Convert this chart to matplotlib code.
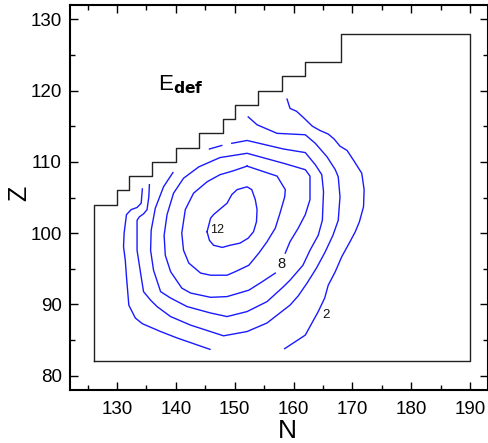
import matplotlib
matplotlib.use('Agg')
import matplotlib.pyplot as plt
from matplotlib.ticker import MultipleLocator

plt.rcParams['font.family'] = ['Liberation Sans Narrow', 'Liberation Sans', 'DejaVu Sans']

# Boundary of the calculated region (N, Z)
boundary_N = [126, 126, 130, 130, 132, 132, 136, 136, 140, 140, 144, 144, 148, 148,
              150, 150, 154, 154, 158, 158, 162, 162, 168, 168, 190, 190, 126]
boundary_Z = [82, 104, 104, 106, 106, 108, 108, 110, 110, 112, 112, 114, 114, 116,
              116, 118, 118, 120, 120, 122, 122, 124, 124, 128, 128, 82, 82]

# Contour E_def = 12 (closed)
c12_N = [145.3, 145.9, 146.4, 148.7, 149.5, 150.4, 152.1, 152.9, 153.5, 153.8, 153.7,
         153.2, 152.3, 150.9, 149.2, 147.9, 146.4, 145.7, 145.3]
c12_Z = [100.2, 102.1, 102.6, 104.2, 105.4, 106.1, 106.5, 106.1, 104.7, 103.3, 101.6,
         100.2, 99.3, 98.6, 98.3, 98.0, 98.3, 99.0, 100.2]

# Contour 10 (closed)
c10_N = [152.1, 157.2, 158.6, 158.5, 157.7, 156.9, 155.5, 154.1, 152.4, 150.1, 148.7,
         145.9, 144.2, 142.2, 141.3, 141.0, 141.6, 143.0, 145.3, 147.5, 149.6, 152.1]
c10_Z = [109.4, 108.0, 106.1, 105.1, 102.8, 100.7, 98.8, 97.2, 95.5, 94.6, 94.1,
         94.1, 94.4, 95.8, 97.6, 100.0, 103.3, 105.6, 107.2, 108.2, 108.7, 109.4]

# Contour 8 (closed, gap at label)
c8_N = [156.9, 154.7, 152.4, 148.7, 145.9, 142.5, 141.0, 139.1, 138.2, 138.0, 138.5,
        139.6, 141.3, 143.9, 147.5, 152.1, 158.3, 162.0, 162.8, 162.8, 162.0, 160.8,
        159.4, 158.6]
c8_Z = [94.4, 93.2, 92.0, 91.1, 91.0, 91.6, 92.3, 94.6, 96.9, 99.7, 102.6,
        105.6, 107.7, 109.3, 110.6, 111.2, 109.8, 108.9, 108.0, 104.7, 102.6, 100.7,
        98.8, 97.2]

# Contour 6 (open)
c6a_N = [139.5, 137.9, 136.5, 135.8, 135.7, 136.2, 137.4, 139.1, 141.9, 145.9, 148.7,
         152.1, 155.5, 158.3, 159.4, 161.6, 162.8, 164.2, 164.9, 165.1, 164.8, 163.7,
         162.0, 158.3, 152.1, 149.5]
c6a_Z = [108.5, 106.5, 103.5, 100.4, 97.6, 94.8, 91.8, 90.9, 89.7, 88.8, 88.3,
         89.0, 90.4, 92.5, 93.4, 95.5, 97.6, 99.7, 101.8, 105.8, 108.2, 109.6,
         111.3, 111.8, 113.0, 112.6]
c6b_N = [147.8, 145.7]
c6b_Z = [112.3, 111.8]

# Contour 4 (open)
c4_N = [135.5, 135.4, 135.1, 134.5, 133.8, 133.4, 133.4, 134.0, 134.5, 135.7, 136.8,
        139.1, 142.5, 148.1, 152.1, 155.5, 158.3, 159.4, 160.8, 162.3, 163.9, 165.4,
        166.7, 167.6, 167.9, 167.6, 167.1, 165.7, 163.7, 162.0, 157.2, 153.8, 152.3]
c4_Z = [106.8, 105.1, 103.3, 102.7, 102.3, 101.8, 97.6, 94.4, 91.8, 90.6, 89.7,
        88.3, 87.1, 85.6, 86.2, 87.4, 89.2, 89.9, 91.2, 93.0, 95.1, 97.4,
        99.7, 101.8, 105.1, 107.9, 108.9, 110.7, 112.6, 113.8, 114.0, 115.2, 116.3]

# Contour 2 (two open pieces)
c2a_N = [134.3, 134.1, 133.4, 132.4, 131.6, 131.2, 131.1, 131.4, 131.6, 132.0, 133.1,
         134.3, 137.4, 140.2, 145.8]
c2a_Z = [106.2, 104.2, 103.6, 103.3, 102.6, 100.0, 98.1, 96.2, 93.9, 89.9, 88.1,
         87.3, 86.2, 85.3, 83.7]
c2b_N = [158.9, 159.4, 160.5, 161.7, 163.2, 164.5, 165.9, 166.9, 167.9, 169.1, 170.3,
         171.6, 172.0, 171.9, 171.2, 170.5, 169.6, 168.2, 167.1, 165.9, 165.3, 164.2,
         162.0, 158.5]
c2b_Z = [118.8, 117.5, 117.1, 116.2, 115.0, 114.4, 113.9, 113.2, 112.2, 111.6, 110.1,
         108.4, 106.1, 103.7, 101.6, 100.2, 98.8, 96.7, 94.6, 92.7, 90.9, 89.0,
         85.7, 83.8]

contour_labels = ['12', '8', '2']
label_N = [147.0, 157.9, 165.6]
label_Z = [100.5, 95.7, 88.5]

x_ticks = [130, 140, 150, 160, 170, 180, 190]
y_ticks = [80, 90, 100, 110, 120, 130]

fig = plt.figure(figsize=(4.89, 4.43), dpi=100)
ax = fig.add_axes([70 / 489, 1 - 390 / 443, 418 / 489, 385 / 443])

ax.plot(boundary_N, boundary_Z, color='#222222', lw=1.0)

blue = '#1a1aff'
for xs, ys in [(c12_N, c12_Z), (c10_N, c10_Z), (c8_N, c8_Z), (c6a_N, c6a_Z),
               (c6b_N, c6b_Z), (c4_N, c4_Z), (c2a_N, c2a_Z), (c2b_N, c2b_Z)]:
    ax.plot(xs, ys, color=blue, lw=1.0)

sizes = [9, 10.5, 9.5]
for t, x, y, s in zip(contour_labels, label_N, label_Z, sizes):
    ax.text(x, y, t, fontsize=s, ha='center', va='center', color='#111111')

ax.text(137.0, 120.8, r'E$_{\mathbf{def}}$', fontsize=16, ha='left', va='center')

ax.set_xlim(122, 193.06)
ax.set_ylim(78, 132)
ax.set_xticks(x_ticks)
ax.set_yticks(y_ticks)
ax.xaxis.set_minor_locator(MultipleLocator(5))
ax.yaxis.set_minor_locator(MultipleLocator(5))
ax.tick_params(which='both', direction='in', top=True, right=True, width=1.0)
ax.tick_params(which='major', length=6, labelsize=13.5)
ax.tick_params(axis='x', which='major', pad=8)
ax.tick_params(axis='y', which='major', pad=6)
ax.tick_params(which='minor', length=3.5)
for sp in ax.spines.values():
    sp.set_linewidth(1.5)

ax.set_xlabel('N', fontsize=19)
ax.set_ylabel('Z', fontsize=18)
ax.xaxis.set_label_coords((287 - 70) / 418, (390 - 419) / 385)
ax.yaxis.set_label_coords((31 - 70) / 418, (390 - 193) / 385)

fig.savefig('out.png', dpi=100)
